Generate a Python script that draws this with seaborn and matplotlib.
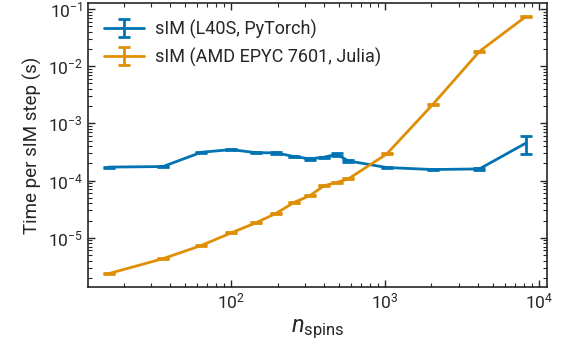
import numpy as np
import matplotlib
matplotlib.use("Agg")
import matplotlib.pyplot as plt
import seaborn as sns

# data
n_spins = [16, 36, 64, 100, 144, 196, 256, 324, 400, 484, 576, 1024, 2048, 4096, 8192]

gpu_time = [1.72e-4, 1.76e-4, 3.13e-4, 3.48e-4, 3.08e-4, 3.05e-4, 2.63e-4, 2.40e-4,
            2.56e-4, 2.88e-4, 2.21e-4, 1.69e-4, 1.56e-4, 1.60e-4, 4.5e-4]
gpu_err = [4e-6, 4e-6, 8e-6, 9e-6, 8e-6, 8e-6, 8e-6, 7e-6,
           7e-6, 1.5e-5, 8e-6, 5e-6, 4e-6, 4e-6, 1.6e-4]

cpu_time = [2.37e-6, 4.31e-6, 7.35e-6, 1.22e-5, 1.82e-5, 2.68e-5, 4.16e-5, 5.44e-5,
            8.12e-5, 9.27e-5, 1.07e-4, 2.92e-4, 2.17e-3, 1.81e-2, 7.35e-2]
cpu_err = [5e-8, 1e-7, 2e-7, 3e-7, 4e-7, 6e-7, 9e-7, 1.2e-6,
           1.8e-6, 2e-6, 2.4e-6, 6e-6, 5e-5, 4e-4, 1.6e-3]

labels = ["sIM (L40S, PyTorch)", "sIM (AMD EPYC 7601, Julia)"]

sns.set_style("ticks")
colors = sns.color_palette("colorblind")
plt.rcParams['font.family'] = ['Roboto', 'DejaVu Sans']
plt.rcParams['mathtext.fontset'] = 'custom'
plt.rcParams['mathtext.rm'] = 'Roboto'
plt.rcParams['mathtext.it'] = 'Roboto:italic'
plt.rcParams['xtick.direction'] = 'in'
plt.rcParams['ytick.direction'] = 'in'
plt.rcParams['xtick.top'] = True
plt.rcParams['ytick.right'] = True

fig, ax = plt.subplots(figsize=(5.67, 3.53), dpi=100)
fig.subplots_adjust(left=0.155, right=0.964, top=0.991, bottom=0.187)

ax.errorbar(n_spins, gpu_time, yerr=gpu_err, color=colors[0], lw=2,
            capsize=4, capthick=2, elinewidth=2, label=labels[0])
ax.errorbar(n_spins, cpu_time, yerr=cpu_err, color=colors[1], lw=2,
            capsize=4, capthick=2, elinewidth=2, label=labels[1])

ax.set_xscale("log")
ax.set_yscale("log")
ax.yaxis.set_major_locator(matplotlib.ticker.LogLocator(base=10, numticks=12))
ax.yaxis.set_minor_locator(matplotlib.ticker.LogLocator(base=10, subs=np.arange(2, 10), numticks=12))
ax.tick_params(which='major', length=5, width=1, labelsize=12.5)
ax.tick_params(which='minor', length=3, width=0.8)
for s in ax.spines.values():
    s.set_linewidth(1.2)

ax.set_xlabel(r"$n_{\mathrm{spins}}$", fontsize=17)
ax.set_ylabel("Time per sIM step (s)", fontsize=13.5)
ax.legend(loc="upper left", frameon=False, fontsize=13, handlelength=2.2,
          handletextpad=0.6)

fig.savefig("out.png", dpi=100)
